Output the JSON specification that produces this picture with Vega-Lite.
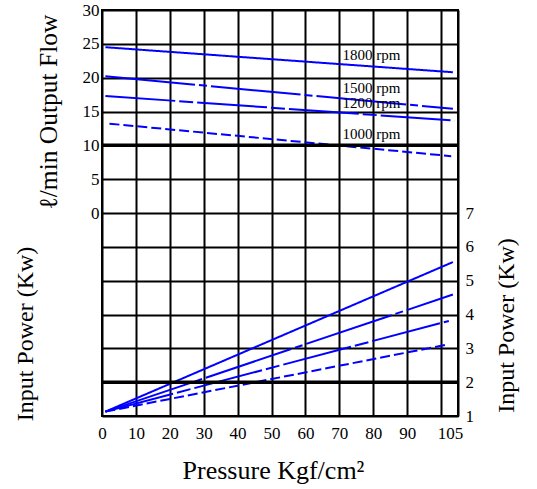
{
  "$schema": "https://vega.github.io/schema/vega-lite/v6.json",
  "width": 356,
  "height": 406,
  "autosize": {"type": "none"},
  "padding": {"left": 102, "top": 10, "right": 79, "bottom": 73},
  "background": "white",
  "config": {
    "view": {"stroke": "black", "strokeWidth": 2},
    "font": "Liberation Serif",
    "text": {"font": "Liberation Serif"},
    "axis": {
      "labelFont": "Liberation Serif",
      "titleFont": "Liberation Serif",
      "labelFontSize": 17,
      "titleFontSize": 24,
      "titleFontWeight": "normal",
      "labelColor": "black",
      "titleColor": "black",
      "ticks": false,
      "domain": false,
      "gridColor": "black",
      "gridWidth": 2,
      "gridOpacity": 1,
      "labelOverlap": false,
      "labelFlush": false
    }
  },
  "datasets": {
    "flow": [
      {"p": 1, "flow": 24.5, "rpm": "1800"},
      {"p": 103.5, "flow": 20.8, "rpm": "1800"},
      {"p": 1, "flow": 20.2, "rpm": "1500"},
      {"p": 103.5, "flow": 15.4, "rpm": "1500"},
      {"p": 1, "flow": 17.3, "rpm": "1200"},
      {"p": 104, "flow": 13.65, "rpm": "1200"},
      {"p": 2.2, "flow": 13.2, "rpm": "1000"},
      {"p": 103, "flow": 8.4, "rpm": "1000"}
    ],
    "power": [
      {"p": 1, "power": 1.13, "rpm": "1800"},
      {"p": 103.5, "power": 5.55, "rpm": "1800"},
      {"p": 1, "power": 1.13, "rpm": "1500"},
      {"p": 103.5, "power": 4.59, "rpm": "1500"},
      {"p": 1, "power": 1.13, "rpm": "1200"},
      {"p": 102.3, "power": 3.81, "rpm": "1200"},
      {"p": 1, "power": 1.13, "rpm": "1000"},
      {"p": 102.3, "power": 3.12, "rpm": "1000"}
    ],
    "labels": [
      {"p": 70.9, "flow": 23.3, "text": "1800 rpm"},
      {"p": 70.9, "flow": 18.5, "text": "1500 rpm"},
      {"p": 70.9, "flow": 16.2, "text": "1200 rpm"},
      {"p": 70.9, "flow": 11.7, "text": "1000 rpm"}
    ],
    "thickFlow": [{"flow": 10}],
    "thickPower": [{"power": 2}]
  },
  "resolve": {"scale": {"y": "independent"}, "axis": {"y": "independent"}},
  "layer": [
    {
      "data": {"name": "flow"},
      "mark": {"type": "line", "color": "#0000ff", "strokeWidth": 2},
      "encoding": {
        "x": {
          "field": "p",
          "type": "quantitative",
          "scale": {"domain": [0, 105], "nice": false, "zero": false},
          "axis": {
            "values": [0, 10, 20, 30, 40, 50, 60, 70, 80, 90, 100, 105],
            "labelExpr": "datum.value == 100 ? '' : datum.label",
            "grid": true,
            "title": "Pressure Kgf/cm²",
            "titleFontSize": 26,
            "titleX": 171,
            "titleY": 62,
            "titleBaseline": "alphabetic",
            "titleAlign": "center",
            "labelPadding": 9,
            "labelOffset": {"condition": {"test": "datum.value == 105", "value": -8}, "value": 0}
          }
        },
        "y": {
          "field": "flow",
          "type": "quantitative",
          "scale": {"domain": [-30, 30], "nice": false, "zero": false},
          "axis": {
            "orient": "left",
            "values": [-30, -25, -20, -15, -10, -5, 0, 5, 10, 15, 20, 25, 30],
            "labelExpr": "datum.value >= 0 ? datum.label : ''",
            "grid": true,
            "title": "ℓ/min Output Flow",
            "titleFontSize": 25.5,
            "titleAngle": -90,
            "titleX": -54,
            "titleY": 101.5,
            "titleBaseline": "middle",
            "titleAlign": "center",
            "labelPadding": 3
          }
        },
        "detail": {"field": "rpm"},
        "strokeDash": {
          "field": "rpm",
          "type": "nominal",
          "scale": {"domain": ["1800", "1500", "1200", "1000"], "range": [[1, 0], [90, 4, 8, 4], [70, 4, 14, 4], [10, 4]]},
          "legend": null
        }
      }
    },
    {
      "data": {"name": "thickFlow"},
      "mark": {"type": "rule", "color": "black", "strokeWidth": 3.5},
      "encoding": {
        "y": {"field": "flow", "type": "quantitative", "scale": {"domain": [-30, 30], "nice": false, "zero": false}, "axis": null}
      }
    },
    {
      "data": {"name": "labels"},
      "mark": {"type": "text", "align": "left", "baseline": "middle", "fontSize": 15, "font": "Liberation Serif", "color": "black"},
      "encoding": {
        "x": {
          "field": "p",
          "type": "quantitative",
          "scale": {"domain": [0, 105], "nice": false, "zero": false},
          "axis": {
            "values": [0, 10, 20, 30, 40, 50, 60, 70, 80, 90, 100, 105],
            "labelExpr": "datum.value == 100 ? '' : datum.label",
            "grid": true,
            "title": "Pressure Kgf/cm²",
            "titleFontSize": 26,
            "titleX": 171,
            "titleY": 62,
            "titleBaseline": "alphabetic",
            "titleAlign": "center",
            "labelPadding": 9,
            "labelOffset": {"condition": {"test": "datum.value == 105", "value": -8}, "value": 0}
          }
        },
        "y": {"field": "flow", "type": "quantitative", "scale": {"domain": [-30, 30], "nice": false, "zero": false}, "axis": null},
        "text": {"field": "text"}
      }
    },
    {
      "data": {"name": "power"},
      "mark": {"type": "line", "color": "#0000ff", "strokeWidth": 2},
      "encoding": {
        "x": {
          "field": "p",
          "type": "quantitative",
          "scale": {"domain": [0, 105], "nice": false, "zero": false},
          "axis": {
            "values": [0, 10, 20, 30, 40, 50, 60, 70, 80, 90, 100, 105],
            "labelExpr": "datum.value == 100 ? '' : datum.label",
            "grid": true,
            "title": "Pressure Kgf/cm²",
            "titleFontSize": 26,
            "titleX": 171,
            "titleY": 62,
            "titleBaseline": "alphabetic",
            "titleAlign": "center",
            "labelPadding": 9,
            "labelOffset": {"condition": {"test": "datum.value == 105", "value": -8}, "value": 0}
          }
        },
        "y": {
          "field": "power",
          "type": "quantitative",
          "scale": {"domain": [1, 13], "nice": false, "zero": false},
          "axis": {
            "orient": "right",
            "values": [1, 2, 3, 4, 5, 6, 7],
            "grid": false,
            "title": "Input Power (Kw)",
            "titleAngle": -90,
            "titleX": 48.5,
            "titleY": 315,
            "titleBaseline": "middle",
            "titleAlign": "center",
            "labelPadding": 7
          }
        },
        "detail": {"field": "rpm"},
        "strokeDash": {
          "field": "rpm",
          "type": "nominal",
          "scale": {"domain": ["1800", "1500", "1200", "1000"], "range": [[1, 0], [90, 4, 8, 4], [70, 4, 14, 4], [10, 4]]},
          "legend": null
        }
      }
    },
    {
      "data": {"name": "thickPower"},
      "mark": {"type": "rule", "color": "black", "strokeWidth": 3.5},
      "encoding": {
        "y": {
          "field": "power",
          "type": "quantitative",
          "scale": {"domain": [1, 13], "nice": false, "zero": false},
          "axis": {
            "orient": "left",
            "labels": false,
            "grid": false,
            "title": "Input Power (Kw)",
            "titleAngle": -90,
            "titleX": -77,
            "titleY": 323.5,
            "titleBaseline": "middle",
            "titleAlign": "center"
          }
        }
      }
    }
  ]
}
